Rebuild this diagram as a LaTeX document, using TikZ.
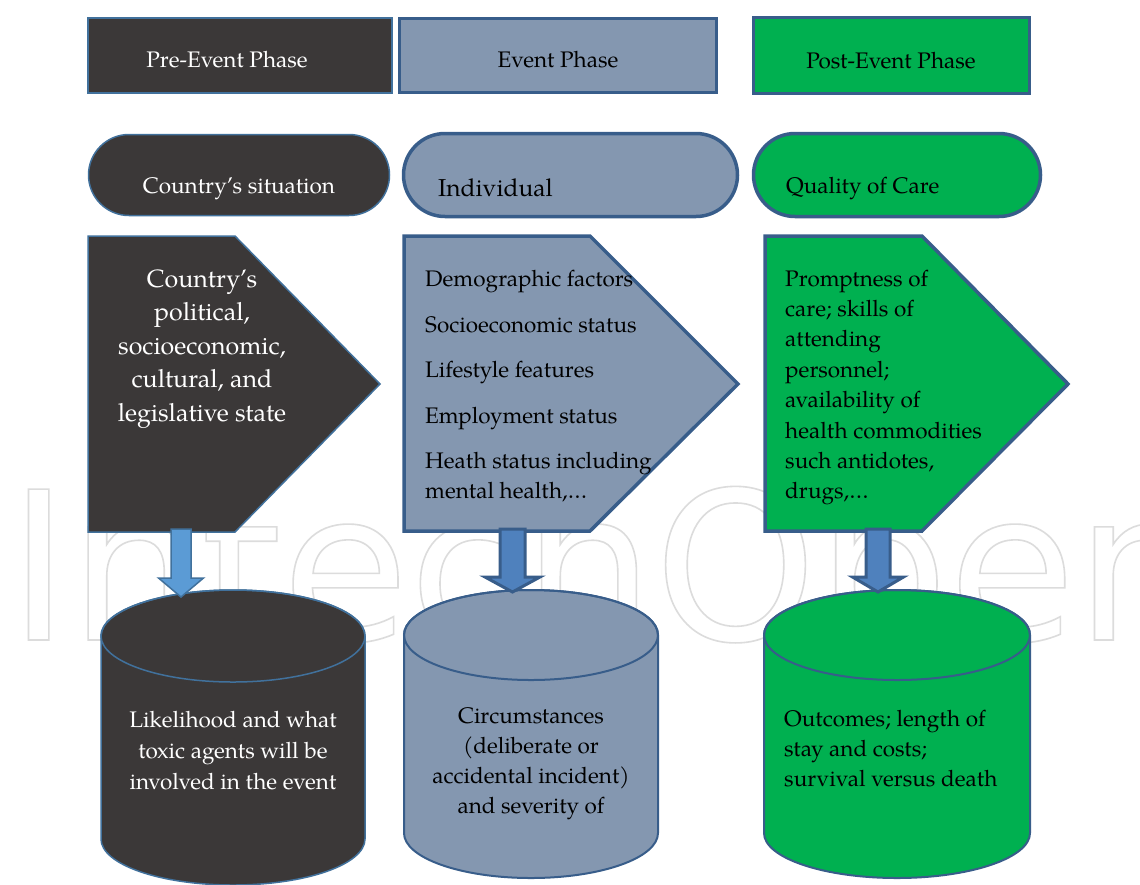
\documentclass[tikz,border=0pt]{standalone}
\usepackage{fontspec}
\setmainfont{TeX Gyre Pagella}
\newfontfamily\wmfont{DejaVu Sans}
\usetikzlibrary{shapes.misc,calc}
\definecolor{darkfill}{HTML}{3B3838}
\definecolor{slatefill}{HTML}{8497B0}
\definecolor{greenfill}{HTML}{00B050}
\definecolor{thinblue}{HTML}{41719C}
\definecolor{thickblue}{HTML}{385D8A}
\definecolor{arrowlight}{HTML}{5B9BD5}
\definecolor{arrowmid}{HTML}{4F81BD}
\definecolor{wmgray}{HTML}{DCDCDC}
\begin{document}
\begin{tikzpicture}[x=1pt,y=-1pt,
  thinb/.style={draw=thinblue,line width=1.5pt},
  thickb/.style={draw=thickblue,line width=3.5pt},
  darkshape/.style={thinb,fill=darkfill},
  slateshape/.style={thickb,fill=slatefill},
  greenshape/.style={thickb,fill=greenfill},
  phasebox/.style={rectangle,inner sep=0pt,minimum width=#1},
  pill/.style={rounded rectangle,inner sep=0pt,minimum width=#1},
  lbl/.style={inner sep=0pt,font=\fontsize{22.5}{30}\selectfont},
  bigl/.style={inner sep=0pt,font=\fontsize{24.5}{30}\selectfont},
  arrowA/.style={draw=thinblue,line width=1.5pt,fill=arrowlight,line join=miter},
  arrowB/.style={draw=thickblue,line width=3pt,fill=arrowmid,line join=miter},
  wm/.style={inner sep=0pt,text=wmgray,font=\wmfont\fontsize{207}{207}\selectfont}
]
\fill[white] (0,0) rectangle (1140,884);
\useasboundingbox (0,0) rectangle (1140,884);

% watermark
\node[wm,anchor=base west] (wmark) at (8,640) {\special{pdf:literal direct 1 Tr 1.6 w}IntechOpen\special{pdf:literal direct 0 Tr}};

% ---------- phase boxes ----------
\node[phasebox=304pt,minimum height=75pt,darkshape] (ph1) at (240,55.5) {};
\node[phasebox=317pt,minimum height=74pt,slateshape] (ph2) at (558,55.5) {};
\node[phasebox=276pt,minimum height=76pt,greenshape] (ph3) at (891.5,55.5) {};
\node[lbl,anchor=base,text=white] (ph1t) at (227,67) {Pre-Event Phase};
\node[lbl,anchor=base] (ph2t) at (558,67.5) {Event Phase};
\node[lbl,anchor=base] (ph3t) at (891,68) {Post-Event Phase};

% ---------- pills ----------
\node[pill=301pt,minimum height=81pt,darkshape] (st1) at (239,175) {};
\node[pill=334pt,minimum height=83pt,slateshape] (st2) at (570.5,175) {};
\node[pill=287pt,minimum height=83pt,greenshape] (st3) at (897,175) {};
\node[lbl,anchor=base,text=white] (st1t) at (239,193) {Country’s situation};
\node[bigl,anchor=base west] (st2t) at (438,196) {Individual};
\node[lbl,anchor=base west] (st3t) at (786,193) {Quality of Care};

% ---------- pentagons ----------
\draw[darkshape,line join=miter] (88,236) -- (235,236) -- (380,384) -- (235,532) -- (88,532) -- cycle;
\draw[slateshape,line join=miter] (404,236) -- (590,236) -- (738,384) -- (590,531) -- (404,531) -- cycle;
\draw[greenshape,line join=miter] (765,236) -- (922,236) -- (1068,384) -- (922,531) -- (765,531) -- cycle;
\coordinate (p1) at (181,529);
\coordinate (p2) at (512.5,529);
\coordinate (p3) at (878,529);

\node[inner sep=0pt,align=center,text=white,font=\fontsize{25}{33.5}\selectfont] (p1t) at (202,349)
  {Country’s\\political,\\socioeconomic,\\cultural, and\\legislative state};
\node[lbl,align=left,anchor=west] (p2t) at (425,386.5)
  {Demographic factors\\[15.5pt]Socioeconomic status\\[15.5pt]Lifestyle features\\[15.5pt]Employment status\\[15.5pt]Heath status including\\mental health,…};
\node[inner sep=0pt,align=left,anchor=west,font=\fontsize{22.5}{30.4}\selectfont] (p3t) at (785,387.5)
  {Promptness of\\care; skills of\\attending\\personnel;\\availability of\\health commodities\\such antidotes,\\drugs,…};

% ---------- cylinders ----------
\filldraw[darkshape] (101,636) -- (101,839) arc[start angle=180,end angle=0,x radius=132,y radius=46] -- (365,636) arc[start angle=0,end angle=-180,x radius=132,y radius=46] -- cycle;
\draw[thinb] (233,636) ellipse[x radius=132,y radius=46];
\filldraw[slatefill,draw=thickblue,line width=2pt] (404,635) -- (404,833) arc[start angle=180,end angle=0,x radius=127,y radius=45] -- (658,635) arc[start angle=0,end angle=-180,x radius=127,y radius=45] -- cycle;
\draw[draw=thickblue,line width=2pt] (531,635) ellipse[x radius=127,y radius=45];
\filldraw[greenfill,draw=thickblue,line width=2pt] (764,635) -- (764,833) arc[start angle=180,end angle=0,x radius=133,y radius=45] -- (1030,635) arc[start angle=0,end angle=-180,x radius=133,y radius=45] -- cycle;
\draw[draw=thickblue,line width=2pt] (897,635) ellipse[x radius=133,y radius=45];
\coordinate (c1) at (181,597);
\coordinate (c2) at (512.5,592);
\coordinate (c3) at (878,592);

\node[lbl,align=center,text=white,font=\fontsize{22.5}{31}\selectfont] (c1t) at (233,751)
  {Likelihood and what\\toxic agents will be\\involved in the event};
\node[lbl,align=center] (c2t) at (531,764)
  {Circumstances\\(deliberate or\\accidental incident)\\and severity of};
\node[lbl,align=left,anchor=west] (c3t) at (784,749)
  {Outcomes; length of\\stay and costs;\\survival versus death};

% ---------- block arrows ----------
\draw[arrowA] ($(p1)+(-10,0)$) -- ($(p1)+(10,0)$) -- ($(c1)+(10,-19)$) -- ($(c1)+(22.5,-19)$) -- (c1) -- ($(c1)+(-22.5,-19)$) -- ($(c1)+(-10,-19)$) -- cycle;
\draw[arrowB] ($(p2)+(-12.5,0)$) -- ($(p2)+(12.5,0)$) -- ($(c2)+(12.5,-15)$) -- ($(c2)+(27.5,-15)$) -- (c2) -- ($(c2)+(-27.5,-15)$) -- ($(c2)+(-12.5,-15)$) -- cycle;
\draw[arrowB] ($(p3)+(-12,0)$) -- ($(p3)+(12,0)$) -- ($(c3)+(12,-15)$) -- ($(c3)+(25.5,-15)$) -- (c3) -- ($(c3)+(-25.5,-15)$) -- ($(c3)+(-12,-15)$) -- cycle;
\end{tikzpicture}
\end{document}
